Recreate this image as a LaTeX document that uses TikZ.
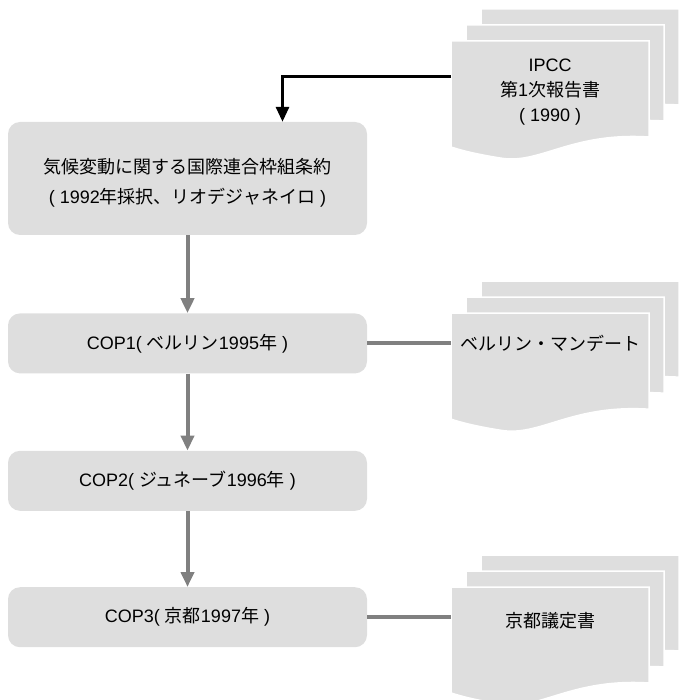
\documentclass[tikz,border=0pt]{standalone}
\usepackage{fontspec}
\setmainfont{Liberation Sans}
\newfontfamily\jpfont{Noto Sans CJK JP}
\usepackage{tikz}
\usetikzlibrary{arrows.meta}
\usetikzlibrary{positioning}
\definecolor{boxgray}{RGB}{222,222,222}
\definecolor{linkgray}{RGB}{128,128,128}
\tikzset{
  > = {Triangle[width = 13pt, length = 15pt]},
  stage/.style = {rectangle, rounded corners = 12pt, fill = boxgray, minimum width = 359pt,
    minimum height = 60pt, align = center, font = \fontsize{18pt}{30pt}\selectfont},
  page/.style = {anchor = north west, minimum width = 198pt, minimum height = 116pt, inner sep = 0pt},
  pagetext/.style = {align = center, font = \fontsize{18pt}{25pt}\selectfont},
  flow/.style = {->, draw = linkgray, line width = 4pt},
  link/.style = {draw = linkgray, line width = 4pt},
  feed/.style = {->, draw = black, line width = 3pt},
  sheet/.pic = {
    \filldraw [fill = boxgray, draw = white, line width = 1.5pt]
      (0,0) -- (198,0) -- (198,-96)
      .. controls (119,-91) and (89,-124) .. (49,-117)
      .. controls (24,-113) and (9,-109) .. (0,-106) -- cycle;
  },
}
\begin{document}
\begin{tikzpicture}[x = 1pt, y = 1pt]
  \useasboundingbox (0,0) rectangle (678,-700);
  % nodes
  \node [stage, minimum height = 113pt] (treaty) at (187.5,-178.5)
    {\mbox{}\\[-6pt]{\jpfont 気候変動に関する国際連合枠組条約}\\( 1992{\jpfont 年採択、リオデジャネイロ} )};
  \node [stage, below = 78pt of treaty] (cop1) {COP1( {\jpfont ベルリン}1995{\jpfont 年} )};
  \node [stage, below = 77pt of cop1] (cop2) {COP2( {\jpfont ジュネーブ}1996{\jpfont 年} )};
  \node [stage, below = 76pt of cop2] (cop3) {COP3( {\jpfont 京都}1997{\jpfont 年} )};
  \node [page] (ipcc) at (451,-41) {};
  \node [page, right = 84pt of cop1.north east, anchor = north west] (berlin) {};
  \node [page, right = 84pt of cop3.north east, anchor = north west] (kyoto) {};
  % pages
  \foreach \doc in {ipcc, berlin, kyoto} {
    \pic at ([shift = {(30,32)}]\doc.north west) {sheet};
    \pic at ([shift = {(15,16)}]\doc.north west) {sheet};
    \pic at (\doc.north west) {sheet};
  }
  \node [pagetext] (ipcc label) at ([yshift = -51pt]ipcc.north)
    {IPCC\\{\jpfont 第}1{\jpfont 次報告書}\\( 1990 )};
  \node [pagetext] (berlin label) at ([yshift = -30pt]berlin.north) {\jpfont ベルリン・マンデート};
  \node [pagetext] (kyoto label) at ([yshift = -34pt]kyoto.north) {\jpfont 京都議定書};
  \coordinate (ipcc in) at ([yshift = -36pt]ipcc.north west);
  % edges
  \draw [feed] (ipcc in) -| ([xshift = 95pt]treaty.north);
  \draw [flow] (treaty) -- (cop1);
  \draw [flow] (cop1) -- (cop2);
  \draw [flow] (cop2) -- (cop3);
  \draw [link] (cop1) -- (berlin.west |- cop1);
  \draw [link] (cop3) -- (kyoto.west |- cop3);
\end{tikzpicture}
\end{document}
